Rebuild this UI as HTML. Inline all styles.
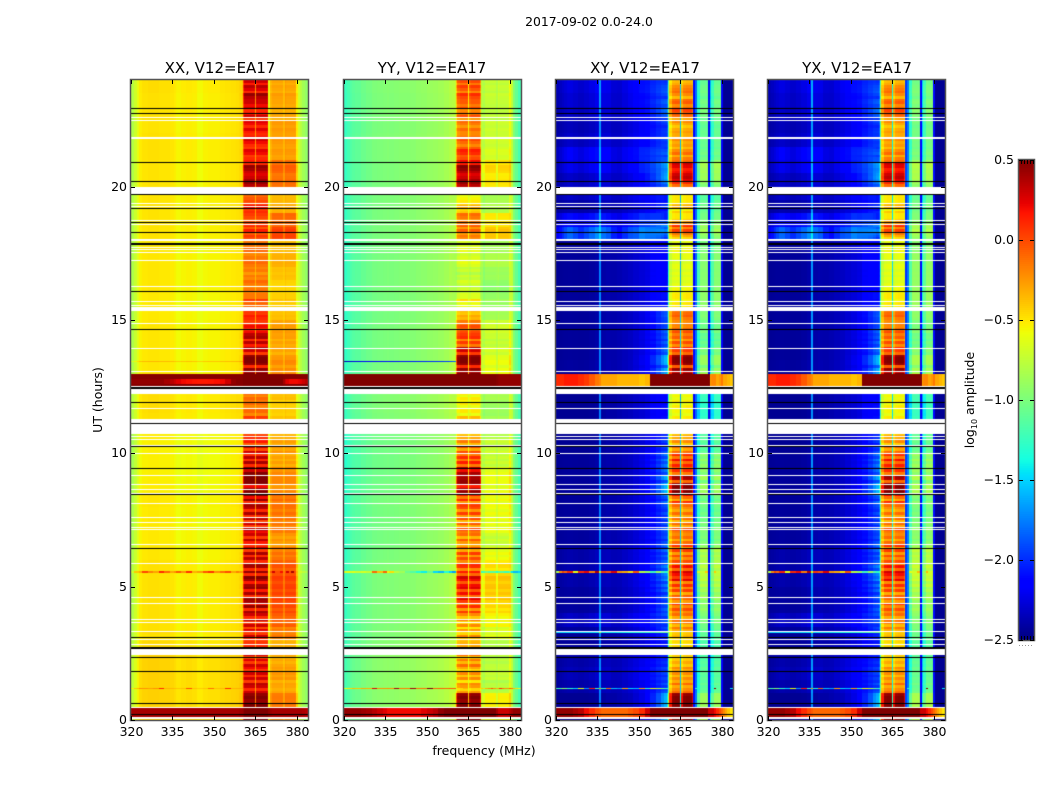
<!DOCTYPE html>
<html lang="en">
<head>
<meta charset="utf-8">
<title>2017-09-02 0.0-24.0</title>
<style>
html,body{margin:0;padding:0;background:#fff;}
#figure{position:relative;width:1050px;height:800px;overflow:hidden;background:#fff;}
canvas{position:absolute;display:block;}
svg{position:absolute;left:0;top:0;}
text{font-family:"DejaVu Sans","Liberation Sans",sans-serif;fill:#000;}
</style>
</head>
<body>
<div id="figure">
  <canvas id="heat0" width="177" height="640" style="left:131px;top:80px"></canvas>
  <canvas id="heat1" width="177" height="640" style="left:344px;top:80px"></canvas>
  <canvas id="heat2" width="177" height="640" style="left:556px;top:80px"></canvas>
  <canvas id="heat3" width="177" height="640" style="left:768px;top:80px"></canvas>
  <canvas id="cbar" width="15" height="480" style="left:1019px;top:160px"></canvas>
  <svg id="overlay" width="1050" height="800" viewBox="0 0 1050 800">
    <text x="589" y="26" text-anchor="middle" font-size="12.4">2017-09-02 0.0-24.0</text>
    <text x="220" y="73" text-anchor="middle" font-size="15">XX, V12=EA17</text>
    <text x="432" y="73" text-anchor="middle" font-size="15">YY, V12=EA17</text>
    <text x="645" y="73" text-anchor="middle" font-size="15">XY, V12=EA17</text>
    <text x="857" y="73" text-anchor="middle" font-size="15">YX, V12=EA17</text>
    <text x="102" y="400" text-anchor="middle" font-size="12.5" transform="rotate(-90 102 400)">UT (hours)</text>
    <text x="484" y="755" text-anchor="middle" font-size="12.5">frequency (MHz)</text>
    <text x="974" y="400" text-anchor="middle" font-size="12.5" transform="rotate(-90 974 400)">log<tspan font-size="8" dy="3">10</tspan><tspan dy="-3"> amplitude</tspan></text>
  </svg>
</div>
<script>
// Channel edges in MHz (non-uniform bins, 53 channels)
const channelEdges = [320,321,322,323,324, 326,328,330,332,334, 335.7,336.3,338,340,342, 344,346,348,350,352, 354,356,358,359,360, 360.5,361,362,363,364, 364.8,365.3,366,367,368, 369,369.7,370.3,371,372, 373,374,374.8,375.6,376, 377,378,379,379.8,380.5, 381,382,383,384];

// Mean spectrum of each correlation (log10 amplitude)
const xxSpectrum = [-.8,-.7,-.6,-.52,-.49, -.48,-.48,-.49,-.49,-.5, -.52,-.55,-.53,-.52,-.53, -.57,-.54,-.53,-.53,-.51, -.5,-.49,-.48,-.47,-.47, -.15,0,0,0,0, -.3,0,0,0,0, 0,-.45,-.15,0,0, 0,0,-.15,0,0, 0,0,0,-.4,-.68, -.78,-.86,-.92];
const yySpectrum = [-1.25,-1.2,-1.15,-1.12,-1.1, -1.06,-1.03,-1,-.99,-.98, -.97,-.98,-.97,-.96,-.96, -.95,-.93,-.92,-.9,-.89, -.87,-.84,-.8,-.78,-.72, -.35,-.05,0,0,0, -.5,-.05,0,0,0, -.2,-.6,-.55,-.38,-.38, -.38,-.38,-.55,-.38,-.38, -.38,-.38,-.38,-.4,-.75, -.98,-1.08,-1.2];
const xySpectrum = [-2.45,-2.45,-2.45,-2.45,-2.45, -2.45,-2.45,-2.45,-2.44,-2.42, -1.75,-2.42,-2.4,-2.4,-2.38, -2.36,-2.34,-2.3,-2.26,-2.2, -2.1,-2,-1.9,-1.85,-1.7, -1,-.25,-.02,0,0, -1.5,-.2,-.02,0,0, -.15,-2.1,-1.8,-.25,0, 0,0,-2.2,-.5,-.2, 0,0,0,-2.15,-2.45, -2.45,-2.45,-2.45];
const yxSpectrum = [-2.45,-2.45,-2.45,-2.45,-2.45, -2.45,-2.45,-2.45,-2.44,-2.42, -1.7,-2.42,-2.4,-2.4,-2.38, -2.36,-2.34,-2.3,-2.26,-2.2, -2.1,-2,-1.9,-1.85,-1.7, -1,-.25,-.02,0,0, -1.35,-.2,-.02,0,0, -.15,-1.95,-1.75,-.2,.05, .05,.05,-2.15,-.45,-.15, .05,.05,.05,-2.1,-2.45, -2.45,-2.45,-2.45];

// Response of each channel to the time-varying levels
const coBandResponse = [0,0,0,0,0, 0,0,0,0,0, 0,0,0,0,0, 0,0,0,0,0, 0,0,0,.05,.15, .7,1,1,1,1, .3,1,1,1,1, .9,.1,.2,.2,.2, .2,.2,.1,.2,.2, .2,.2,.2,.2,0, 0,0,0];
const coSideResponse = [0,0,0,0,0, 0,0,0,0,0, 0,0,0,0,0, 0,0,0,0,0, 0,0,0,0,0, 0,0,0,0,0, 0,0,0,0,0, 0,.5,.7,1,1, 1,1,.7,.9,1, 1,1,1,.5,0, 0,0,0];
const crossBandResponse = [0,0,0,0,0, 0,0,0,0,0, 0,0,0,0,0, 0,0,.02,.05,.1, .15,.25,.4,.5,.6, .5,.8,1,1,1, .2,.8,1,1,1, .85,.05,.05,.25,.25, .25,.25,.02,.2,.25, .25,.25,.25,.02,0, 0,0,0];
const crossSideResponse = [0,0,0,0,0, 0,0,0,0,0, 0,0,0,0,0, 0,0,0,0,0, 0,0,0,0,0, 0,0,0,0,0, 0,0,0,0,0, 0,0,0,1,1, 1,1,0,1,1, 1,1,1,0,0, 0,0,0];
const crossWispResponse = [.3,.4,.5,.6,.7, .6,.5,.6,.7,.8, .3,.7,.6,.4,.3, .4,.5,.5,.6,.5, .4,.3,.2,.1,.1, 0,0,0,0,0, 0,0,0,0,0, 0,0,0,0,0, 0,0,0,0,0, 0,0,0,0,0, 0,0,0];

// Main-band level per 0.1 h row, ascending from 0 h (ten values per hour)
const coBandLevels = [
.5,.5,.5,.5,.5,.5,.45,.45,.5,.45,
.3,.1,.3,.35,.05,.3,.1,.3,.05,.2,
.3,.05,.25,0,.3,.1,0,.1,.1,.05,
.1,.3,.05,.25,0,.3,.05,.35,.1,.3,
.4,.1,.45,.15,.4,.45,.1,.4,.15,.45,
.4,.15,.4,.5,.1,.45,.1,.4,.45,.1,
.35,.1,.4,.05,.3,.1,.15,.35,.05,.3,
.2,.35,.05,.3,0,.35,.1,.4,.1,.35,
.4,.1,.45,.2,.5,.5,.45,.2,.5,.5,
.5,.5,.5,.3,.5,.1,.4,.1,.35,.1,
.3,0,.3,-.05,.15,.1,.05,0,0,0,
0,0,-.15,.05,-.2,-.1,-.1,-.2,-.1,-.15,
-.1,-.2,-.1,-.15,-.2,.5,.5,.5,.5,.5,
.4,.45,.1,.45,.5,.5,.45,.05,.3,.4,
.15,.35,.1,.4,.35,.2,.1,.2,.1,.05,
.1,.15,.05,.1,.1,-.1,-.1,.05,-.15,-.15,
-.2,-.15,-.2,-.15,-.1,-.2,-.15,-.25,-.15,-.2,
-.15,-.1,-.15,-.15,-.2,-.1,-.1,-.15,-.1,-.15,
0,.05,-.05,.15,-.05,.1,0,-.1,0,.05,
.1,.05,.2,.05,0,-.05,-.1,-.1,-.1,-.1,
.35,.45,.4,.3,.25,.3,.4,.45,.1,.15,
.1,.05,.2,.25,.05,.1,.2,.3,.2,.1,
.15,.25,.1,.2,.25,.05,.3,.15,.1,.3,
.2,.3,.3,.35,.45,.1,.25,.35,.15,.3];
const crossBandLevels = [
.5,.5,.5,.5,.5,.5,.5,.5,.5,.45,
-.1,-.2,-.3,-.1,-.3,-.2,-.35,-.2,-.3,-.2,
-.4,-.3,-.4,-.45,-.4,-.4,-.5,-.45,-.5,-.45,
-.45,-.35,-.4,-.3,-.15,-.35,-.15,-.1,-.3,-.1,
-.2,0,-.2,.1,-.25,-.1,-.05,-.3,.05,-.2,
.1,-.2,.25,.05,.2,.3,-.1,.2,-.2,0,
-.2,0,-.25,.05,-.3,.1,-.1,-.3,-.1,-.2,
-.15,0,-.3,-.1,-.35,-.1,-.3,-.1,-.3,-.2,
-.1,.1,-.3,-.1,.2,.5,.5,.5,.45,-.1,
.4,.5,-.15,.1,-.1,.15,-.1,.2,-.15,.1,
-.1,-.3,-.1,-.4,-.2,-.3,-.3,-.4,-.35,-.35,
-.4,-.5,-.6,-.5,-.6,-.55,-.55,-.5,-.6,-.5,
-.6,-.55,-.6,-.55,-.6,.5,.5,.5,.5,.5,
.3,.45,-.05,.45,.5,.5,.45,-.1,.05,.15,
-.2,0,-.25,-.05,-.15,0,-.1,-.2,-.15,-.2,
-.15,-.05,-.1,-.15,-.3,-.5,-.5,-.55,-.5,-.5,
-.55,-.55,-.6,-.6,-.65,-.6,-.65,-.6,-.65,-.6,
-.6,-.65,-.65,-.6,-.6,-.55,-.55,-.6,-.5,-.6,
-.45,-.3,-.15,.05,-.2,.1,-.25,-.4,-.5,-.5,
-.4,-.55,-.3,-.4,-.5,-.5,-.5,-.5,-.5,-.5,
-.1,.1,.25,.35,.3,.2,.15,.25,.3,-.1,
-.15,-.3,-.1,-.2,-.35,-.25,-.3,-.2,-.3,-.3,
-.25,-.3,-.4,-.3,-.2,-.3,-.1,-.05,.05,-.1,
-.2,-.05,-.1,-.35,-.2,-.1,-.15,-.2,-.3,-.35];

// Slow levels per 0.5 h, ascending from 0 h
const yyBandShift = [0,0,-.55,-.5,-.4,-.4,-.5,-.5,-.35,-.2,-.2,-.3,-.35,-.4,-.35,-.35,-.35,-.05,-.1,-.25,-.3,-.4,-.4,-.4,-.4,0,0,0,-.3,-.2,-.45,-.5,-.55,-.55,-.5,-.5,-.2,-.15,-.5,-.5,0,.05,-.1,-.3,-.35,-.3,-.35,-.3];
const coSideLevels = [-.3,-.25,-.35,-.3,-.35,-.35,-.2,-.12,-.08,-.05,-.05,-.1,-.2,-.3,-.2,-.2,-.2,-.3,-.3,-.35,-.3,-.35,-.4,-.4,-.35,-.3,-.3,-.35,-.35,-.3,-.4,-.4,-.42,-.35,-.3,-.35,.02,-.1,-.35,-.35,-.2,-.15,-.3,-.3,-.3,-.35,-.35,-.35];
const crossSideLevels = [-.95,-1,-1.05,-1.05,-1.05,-1.05,-1,-.95,-.9,-.85,-.8,-.8,-.8,-.95,-.95,-1,-1,-1,-.95,-.95,-1.05,-1.05,-1.15,-1.15,-1.1,-.95,-1,-1,-1.05,-1,-.95,-.8,-.8,-.8,-.8,-.85,-.85,-.9,-.95,-1,-.95,-.9,-1,-1,-1,-1,-1,-1];
const coBaseShift = [.05,.05,.05,.05,.05,.02,0,0,0,0,0,0,-.02,-.03,-.03,-.03,-.02,-.04,-.05,-.05,-.05,-.04,0,.01,.01,0,-.02,-.02,-.02,-.02,-.03,-.03,-.02,-.02,-.02,-.02,-.01,-.01,-.01,-.01,-.01,-.01,0,0,-.01,0,0,.01];
const crossWispLevels = [0,0,.1,.15,.1,.03,.03,.2,.05,.05,.1,.1,.1,.05,.05,.03,.03,.03,.03,.03,0,0,0,0,0,0,.05,.03,.03,.03,.03,.03,.03,.03,.03,.05,.9,.5,.1,.2,.2,.35,.4,.2,.15,.2,.25,.3];

// Interference bursts: hour ranges and the spectrum during each
const burstHours = [[.11,.45],[12.52,12.97]];
const xxBurstLow = [.4,.4,.4,.4,.4, .4,.4,.4,.4,.4, .4,.4,.4,.4,.4, .4,.4,.4,.4,.4, .4,.4,.4,.42,.42, .45,.5,.5,.5,.5, .5,.5,.5,.5,.5, .5,.45,.42,.4,.4, .4,.4,.4,.4,.4, .4,.4,.4,.4,.4, .4,.38,.36];
const yyBurstLow = [.45,.45,.45,.45,.45, .42,.4,.35,.3,.25, .2,.2,.2,.2,.2, .2,.2,.25,.3,.35, .45,.5,.5,.5,.5, .5,.5,.5,.5,.5, .5,.5,.5,.5,.5, .5,.5,.5,.5,.5, .5,.5,.4,.3,.3, .3,.3,.3,.35,.4, .45,.45,.45];
const crossBurstLow = [.45,.45,.45,.45,.45, .4,.35,.2,.1,0, -.05,-.1,-.1,-.1,-.1, -.1,-.05,0,.1,.3, .5,.5,.5,.5,.5, .5,.5,.5,.5,.5, .5,.5,.5,.5,.5, .5,.5,.5,.5,.5, .5,.5,.3,.3,.3, .2,.1,0,-.1,-.2, -.3,-.4,-.5];
const xxBurstHigh = [.48,.48,.48,.48,.48, .48,.48,.48,.48,.48, .48,.48,.48,.48,.48, .48,.48,.48,.48,.48, .48,.48,.48,.48,.48, .5,.5,.5,.5,.5, .5,.5,.5,.5,.5, .5,.5,.5,.5,.5, .5,.5,.48,.48,.48, .48,.48,.48,.48,.48, .48,.48,.48];
const yyBurstHigh = [.5,.5,.5,.5,.5, .5,.5,.5,.5,.5, .5,.5,.5,.5,.5, .5,.5,.5,.5,.5, .5,.5,.5,.5,.5, .5,.5,.5,.5,.5, .5,.5,.5,.5,.5, .5,.5,.5,.5,.5, .5,.5,.48,.46,.45, .45,.45,.45,.45,.45, .45,.45,.45];
const crossBurstHigh = [.1,.1,.1,.15,.15, .15,.1,.05,-.05,-.15, -.2,-.3,-.3,-.3,-.35, -.35,-.35,-.35,-.4,-.35, .5,.5,.5,.5,.5, .5,.5,.5,.5,.5, .5,.5,.5,.5,.5, .5,.5,.5,.5,.5, .5,.5,.5,-.3,-.2, -.2,-.3,-.25,-.15,-.3, -.3,-.35,-.4];

// Brighter core inside the XX 12.5 h burst
const xxBurstCoreHours = [12.6,12.78];
const xxBurstCore = [.45,.45,.45,.45,.45, .45,.45,.45,.4,.35, .3,.25,.2,.18,.16, .15,.15,.16,.18,.2, .3,.45,.48,.48,.48, .5,.5,.5,.5,.5, .5,.5,.5,.5,.5, .5,.5,.5,.5,.5, .5,.5,.4,.3,.25, .2,.2,.2,.2,.22, .25,.3,.35];

// Narrow speckled rows: offsets from the surrounding row
const speckleHours = [5.55,1.18];
const coSpeckleA = [.1,.3,.2,.2,.5, .3,.2,.6,.4,.2, .3,.5,.3,.6,.2, .3,.5,.6,.3,.4, .5,.2,.3,.2,.1, 0,0,0,0,0, 0,0,0,0,0, 0,0,.1,.3,0, 0,.2,0,0,.3, 0,.4,0,0,0, .1,.1,.1];
const coSpeckleB = [.2,.25,.2,.25,.2, .15,.2,.55,.1,.1, .1,.1,.1,.45,.1, .1,.1,.35,.1,.1, .55,.1,.1,.1,.1, 0,0,0,0,0, 0,0,0,0,0, 0,0,0,0,0, 0,0,0,0,0, 0,0,0,0,0, 0,0,0];
const yySpeckleA = [.6,.6,.5,.5,.4, .4,.3,.9,.6,.9, .4,.5,.2,.1,-.1, -.2,-.4,-.5,-.2,-.6, -.7,-.5,-.7,-.9,-.9, 0,0,0,0,0, 0,0,0,0,0, -.3,-.6,-.6,-.6,-.7, -.7,-.7,-.7,-.7,-.7, -.7,-.8,-.8,-.7,-.7, -.6,-.5,-.3];
const yySpeckleB = [.6,.65,.65,.7,.65, .7,.65,1.2,.7,.7, .7,.7,1.3,.75,.75, 1.3,.75,.75,1.4,.75, .75,.7,.7,.7,.7, 0,0,0,.1,.1, 0,0,0,0,0, .1,.4,.4,.5,.6, .8,.6,.5,.5,.9, .7,.6,.6,.6,.6, .6,.6,.6];
const crossSpeckleA = [1.6,2.2,2.4,2.3,2.5, 1.8,2.5,2.6,2.2,2.7, 1,2.4,2.3,2.6,2.1, 2,1.8,2.2,1.4,1.2, .8,1,.6,.4,.3, 0,0,0,0,0, 0,0,0,0,0, 0,0,0,.3,0, 0,.3,0,0,0, .3,0,0,0,0, 0,0,0];
const crossSpeckleB = [1.2,1.2,1.5,1.4,1.1, .9,1.8,.7,2.5,1.1, 1.5,1,2.2,.8,.7, 2,.8,.7,1.9,.9, 1.5,1.2,.9,.7,.5, 0,0,0,0,0, 0,0,0,0,0, 0,0,.5,0,0, 0,0,0,0,0, 2,0,0,0,0, 0,0,1];

// Faint full-width rows outside the band, with a per-panel offset
const faintRowHours = [13.45,3.28];
const faintOffsetXX = [.15,.04];
const faintOffsetYY = [-1.1,.02];
const faintOffsetXY = [0,.95];
const faintOffsetYX = [0,.95];

// Flagged time ranges (white) and dropout rows (black), in hours
const whiteRanges = [[22.57,22.61],[22.46,22.5],[21.84,21.88],[21.77,21.81],[19.73,19.99],[19.35,19.39],[19.26,19.29],[18.71,18.75],[18.56,18.6],[17.96,18.04],[17.7,17.74],[17.63,17.66],[17.51,17.55],[17.21,17.25],[16.22,16.28],[15.68,15.71],[15.54,15.58],[15.34,15.49],[14.85,14.89],[13.91,13.95],[13.05,13.09],[12.51,12.54],[12.23,12.41],[11.66,11.7],[11.14,11.29],[10.73,11.1],[10.61,10.65],[10.5,10.54],[10.28,10.31],[9.98,10.01],[9.15,9.19],[8.81,8.85],[8.63,8.66],[8.48,8.53],[8.1,8.14],[7.58,7.61],[7.39,7.43],[7.2,7.24],[7.13,7.16],[6.56,6.6],[5.85,5.89],[4.58,4.61],[4.35,4.39],[3.75,3.79],[3.64,3.68],[3.3,3.34],[3,3.04],[2.81,2.85],[2.42,2.66],[.45,.49],[.04,.11]];
const blackRanges = [[22.91,22.95],[22.72,22.76],[20.89,20.93],[20.17,20.21],[19.69,19.73],[19.15,19.21],[18.64,18.68],[18.26,18.3],[17.83,17.87],[16.05,16.09],[14.62,14.66],[12.41,12.49],[11.89,11.93],[11.1,11.14],[10.24,10.28],[9.41,9.45],[8.42,8.46],[6.41,6.45],[3.07,3.11],[2.67,2.74],[2.32,2.37],[1.8,1.84],[.6,.64],[.19,.23]];

// Axis ticks
const freqTicks = [320,335,350,365,380];
const hourTicks = [0,5,10,15,20];
const colorbarTicks = [-2.5,-2,-1.5,-1,-.5,0,.5];
const colorbarTickLabels = ['\u22122.5','\u22122.0','\u22121.5','\u22121.0','\u22120.5','0.0','0.5'];

// Layout and scales
const panelNames = ['xx','yy','xy','yx'];
const panelLeft = [131,344,556,768];
const panelWidth = 177, plotTop = 80, plotBottom = 720;
const freqMin = 320, freqMax = 384, hourMin = 0, hourMax = 24;
const valueMin = -2.5, valueMax = 0.5;
const rowHours = 0.1;
const xScale = f => (f - freqMin) / (freqMax - freqMin) * panelWidth;
const yScale = h => plotBottom - (h - hourMin) / (hourMax - hourMin) * (plotBottom - plotTop);
const cbarY = v => 640 - (v - valueMin) / (valueMax - valueMin) * 480;

function jet(t) {
  t = Math.max(0, Math.min(1, t));
  const interp = (pts) => {
    for (let i = 1; i < pts.length; i++) {
      if (t <= pts[i][0]) {
        const a = pts[i - 1], b = pts[i];
        return a[1] + (b[1] - a[1]) * (t - a[0]) / (b[0] - a[0]);
      }
    }
    return pts[pts.length - 1][1];
  };
  const r = interp([[0,0],[.35,0],[.66,1],[.89,1],[1,.5]]);
  const g = interp([[0,0],[.125,0],[.375,1],[.64,1],[.91,0],[1,0]]);
  const b = interp([[0,.5],[.11,1],[.34,1],[.65,0],[1,0]]);
  return 'rgb(' + Math.round(r * 255) + ',' + Math.round(g * 255) + ',' + Math.round(b * 255) + ')';
}
const colorOf = v => jet((v - valueMin) / (valueMax - valueMin));

const spectra = [xxSpectrum, yySpectrum, xySpectrum, yxSpectrum];
const burstLow = [xxBurstLow, yyBurstLow, crossBurstLow, crossBurstLow];
const burstHigh = [xxBurstHigh, yyBurstHigh, crossBurstHigh, crossBurstHigh];
const faintOffsets = [faintOffsetXX, faintOffsetYY, faintOffsetXY, faintOffsetYX];

function cellValue(p, b, r) {
  const half = Math.min(47, Math.floor(r / 5));
  if (p < 2) {
    const level = coBandLevels[r] + (p === 1 ? yyBandShift[half] : 0);
    return spectra[p][b] + coBandResponse[b] * level + coSideResponse[b] * coSideLevels[half] + (b < 25 ? coBaseShift[half] : 0);
  }
  return spectra[p][b] + crossBandResponse[b] * crossBandLevels[r] + crossSideResponse[b] * crossSideLevels[half] + crossWispResponse[b] * crossWispLevels[half];
}

function drawBand(ctx, h0, h1, b, value) {
  const x0 = Math.round(xScale(channelEdges[b]));
  const x1 = Math.round(xScale(channelEdges[b + 1]));
  const y0 = Math.round(yScale(h1)) - plotTop;
  const y1 = Math.max(y0 + 1, Math.round(yScale(h0)) - plotTop);
  ctx.fillStyle = colorOf(value);
  ctx.fillRect(x0, y0, Math.max(1, x1 - x0), y1 - y0);
}

function drawPanel(p) {
  const ctx = document.getElementById('heat' + p).getContext('2d');
  const nChannels = channelEdges.length - 1;
  const nRows = coBandLevels.length;
  for (let r = 0; r < nRows; r++) {
    for (let b = 0; b < nChannels; b++) {
      drawBand(ctx, r * rowHours, (r + 1) * rowHours, b, cellValue(p, b, r));
    }
  }
  // bursts
  const burstSets = [burstLow[p], burstHigh[p]];
  burstHours.forEach((span, i) => {
    for (let b = 0; b < nChannels; b++) drawBand(ctx, span[0], span[1], b, burstSets[i][b]);
  });
  if (p === 0) {
    for (let b = 0; b < nChannels; b++) drawBand(ctx, xxBurstCoreHours[0], xxBurstCoreHours[1], b, xxBurstCore[b]);
  }
  // faint rows outside the receiver band
  faintRowHours.forEach((h, i) => {
    const r = Math.floor(h / rowHours);
    for (let b = 0; b < 25; b++) {
      drawBand(ctx, h - .03, h + .03, b, cellValue(p, b, r) + faintOffsets[p][i]);
    }
  });
  // speckled rows
  const speckleSets = [[coSpeckleA, coSpeckleB], [yySpeckleA, yySpeckleB], [crossSpeckleA, crossSpeckleB], [crossSpeckleA, crossSpeckleB]];
  speckleHours.forEach((h, i) => {
    const r = Math.floor(h / rowHours);
    for (let b = 0; b < nChannels; b++) {
      const delta = speckleSets[p][i][b];
      if (delta !== 0) drawBand(ctx, h - .025, h + .025, b, cellValue(p, b, r) + delta);
    }
  });
  // flagged rows
  ctx.fillStyle = '#fff';
  whiteRanges.forEach(s => {
    const y0 = Math.round(yScale(s[1])) - plotTop;
    const y1 = Math.max(y0 + 1, Math.round(yScale(s[0])) - plotTop);
    ctx.fillRect(0, y0, panelWidth, y1 - y0);
  });
  ctx.fillStyle = '#000';
  blackRanges.forEach(s => {
    const y0 = Math.round(yScale(s[1])) - plotTop;
    const y1 = Math.max(y0 + 1, Math.round(yScale(s[0])) - plotTop);
    ctx.fillRect(0, y0, panelWidth, y1 - y0);
  });
}
[0, 1, 2, 3].forEach(drawPanel);

// colorbar gradient
(function () {
  const ctx = document.getElementById('cbar').getContext('2d');
  for (let y = 0; y < 480; y += 2) {
    ctx.fillStyle = colorOf(valueMax - (y + 1) / 480 * (valueMax - valueMin));
    ctx.fillRect(0, y, 15, 2);
  }
})();

// axes, ticks and labels
const svgNS = 'http://www.w3.org/2000/svg';
const overlay = document.getElementById('overlay');
function addLine(x1, y1, x2, y2, name) {
  const el = document.createElementNS(svgNS, 'line');
  el.setAttribute('x1', x1);
  el.setAttribute('y1', y1);
  el.setAttribute('x2', x2);
  el.setAttribute('y2', y2);
  el.setAttribute('stroke', '#000');
  el.setAttribute('stroke-width', '1');
  
  
  overlay.appendChild(el);
}
function addLabel(x, y, anchor, str, name) {
  const el = document.createElementNS(svgNS, 'text');
  el.setAttribute('x', x);
  el.setAttribute('y', y);
  el.setAttribute('text-anchor', anchor);
  el.setAttribute('font-size', '12.5');
  el.textContent = str;
  
  
  overlay.appendChild(el);
}
function addFrame(x, y, w, h, name) {
  const el = document.createElementNS(svgNS, 'rect');
  el.setAttribute('x', x);
  el.setAttribute('y', y);
  el.setAttribute('width', w);
  el.setAttribute('height', h);
  el.setAttribute('fill', 'none');
  el.setAttribute('stroke', '#555');
  el.setAttribute('stroke-width', '1.5');
  
  
  overlay.appendChild(el);
}
panelNames.forEach((n, p) => {
  const left = panelLeft[p];
  addFrame(left - .5, plotTop - .5, panelWidth + 1, plotBottom - plotTop + 1, n + '-axes-frame');
  freqTicks.forEach(f => {
    const x = Math.round(left + xScale(f)) + .5;
    addLine(x, plotBottom, x, plotBottom - 4, n + '-x-tick-bottom');
    addLine(x, plotTop, x, plotTop + 4, n + '-x-tick-top');
    addLabel(x, plotBottom + 16, 'middle', String(f), n + '-x-tick-label');
  });
  hourTicks.forEach(h => {
    const y = Math.round(yScale(h)) + .5;
    addLine(left, y, left + 4, y, n + '-y-tick-left');
    addLine(left + panelWidth, y, left + panelWidth - 4, y, n + '-y-tick-right');
    addLabel(left - 4, y + 3.5, 'end', String(h), n + '-y-tick-label');
  });
});
addFrame(1018.5, 159.5, 16, 481, 'colorbar-frame');
colorbarTicks.forEach((v, i) => {
  const y = Math.round(cbarY(v)) + .5;
  addLine(1019, y, 1023, y, 'colorbar-tick-left');
  addLine(1034, y, 1030, y, 'colorbar-tick-right');
  addLabel(1014, y + 3.5, 'end', colorbarTickLabels[i], 'colorbar-tick-label');
});
[1021, 1024, 1027, 1030, 1033].forEach(x => {
  addLine(x + .5, 160, x + .5, 164, 'colorbar-minor-tick-top');
  addLine(x + .5, 640, x + .5, 636, 'colorbar-minor-tick-bottom');
  const dot = document.createElementNS(svgNS, 'rect');
  dot.setAttribute('x', x - 2);
  dot.setAttribute('y', 645);
  dot.setAttribute('width', 1);
  dot.setAttribute('height', 1);
  dot.setAttribute('fill', '#999');
  
  
  overlay.appendChild(dot);
});
</script>
</body>
</html>
